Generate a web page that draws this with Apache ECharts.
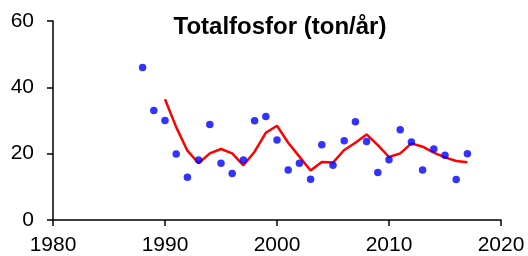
<!DOCTYPE html>
<html>
<head>
<meta charset="utf-8">
<script src="https://cdn.jsdelivr.net/npm/echarts@6/dist/echarts.min.js"></script>
<style>
  html, body { margin: 0; padding: 0; background: #fff; }
  #chart { width: 528px; height: 256px; }
</style>
</head>
<body>
<div id="chart"></div>
<script>
// årliga värden (punkter)
const years = [1988, 1989, 1990, 1991, 1992, 1993, 1994, 1995, 1996, 1997,
  1998, 1999, 2000, 2001, 2002, 2003, 2004, 2005, 2006, 2007,
  2008, 2009, 2010, 2011, 2012, 2013, 2014, 2015, 2016, 2017];
const values = [46.0, 33.0, 30.0, 19.9, 12.9, 18.1, 28.8, 17.1, 14.0, 18.1,
  29.9, 31.2, 24.1, 15.1, 17.1, 12.3, 22.7, 16.5, 23.9, 29.6,
  23.7, 14.3, 18.2, 27.2, 23.5, 15.1, 21.4, 19.5, 12.2, 20.0];

// utjämnad kurva
const trendYears = [1990, 1991, 1992, 1993, 1994, 1995, 1996, 1997, 1998, 1999,
  2000, 2001, 2002, 2003, 2004, 2005, 2006, 2007, 2008, 2009,
  2010, 2011, 2012, 2013, 2014, 2015, 2016, 2017];
const trendValues = [36.4, 28.0, 20.9, 17.1, 20.1, 21.4, 20.1, 16.5, 20.6, 26.3,
  28.4, 23.3, 19.1, 14.9, 17.5, 17.3, 21.1, 23.3, 25.8, 22.6,
  19.0, 20.1, 23.1, 22.1, 20.3, 18.9, 17.8, 17.4];

const chart = echarts.init(document.getElementById('chart'));

const axisText = { color: '#000', fontFamily: 'Liberation Sans', fontSize: 21 };

const option = {
  animation: false,
  title: {
    text: 'Totalfosfor (ton/år)',
    left: 275,
    top: 10,
    textAlign: 'center',
    textStyle: { color: '#000', fontFamily: 'Liberation Sans', fontWeight: 'bold', fontSize: 24 }
  },
  grid: { left: 53, right: 27, top: 21, bottom: 36 },
  xAxis: {
    type: 'value',
    min: 1980,
    max: 2020,
    interval: 10,
    splitLine: { show: false },
    axisLine: { lineStyle: { color: '#000', width: 1.5 } },
    axisTick: { show: true, length: 6, lineStyle: { color: '#000', width: 1.5 } },
    axisLabel: { ...axisText, margin: 15, formatter: (v) => String(v) }
  },
  yAxis: {
    type: 'value',
    min: 0,
    max: 60,
    interval: 20,
    splitLine: { show: false },
    axisLine: { show: true, lineStyle: { color: '#000', width: 1.5 } },
    axisTick: { show: true, length: 6, lineStyle: { color: '#000', width: 1.5 } },
    axisLabel: { ...axisText, margin: 19 }
  },
  series: [
    {
      type: 'scatter',
      data: years.map((y, i) => [y, values[i]]),
      symbolSize: 7.5,
      itemStyle: { color: '#0000FF' },
      z: 3
    },
    {
      type: 'line',
      data: trendYears.map((y, i) => [y, trendValues[i]]),
      showSymbol: false,
      smooth: false,
      lineStyle: { color: '#FF0000', width: 2.5 },
      z: 2
    }
  ]
};

chart.setOption(option);
</script>
</body>
</html>
